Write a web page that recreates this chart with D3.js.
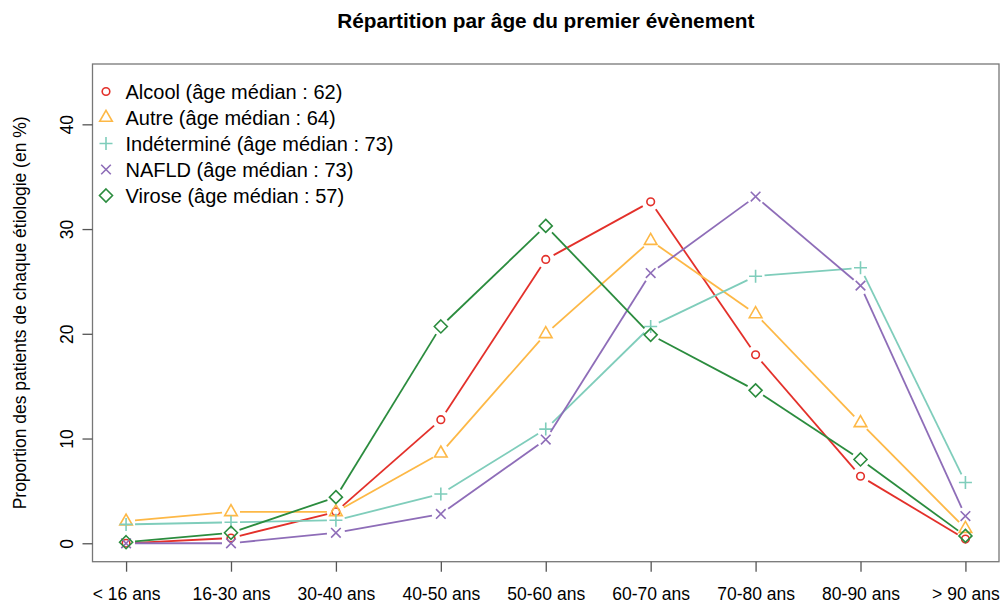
<!DOCTYPE html>
<html>
<head>
<meta charset="utf-8">
<script src="https://cdn.jsdelivr.net/npm/d3@7"></script>
<style>
  body { margin: 0; background: #fff; }
  text { font-family: "Liberation Sans", Arial, sans-serif; fill: #000; }
</style>
</head>
<body>
<svg id="chart" width="1000" height="603"></svg>
<script>
// age groups (x axis)
const ageGroups = ["< 16 ans", "16-30 ans", "30-40 ans", "40-50 ans", "50-60 ans", "60-70 ans", "70-80 ans", "80-90 ans", "> 90 ans"]
const yTicks = [0, 10, 20, 30, 40]

// proportion (%) per etiology
const alcool      = [0.0, 0.5, 3.0, 11.8, 27.1, 32.6, 18.0, 6.4, 0.4]
const autre       = [2.1, 3.0, 3.0, 8.6, 20.0, 28.9, 21.9, 11.5, 1.4]
const indetermine = [1.8, 2.0, 2.2, 4.7, 10.9, 20.7, 25.5, 26.3, 5.8]
const nafld       = [0.0, 0.0, 1.0, 2.8, 9.9, 25.8, 33.1, 24.6, 2.6]
const virose      = [0.1, 1.0, 4.4, 20.7, 30.3, 19.9, 14.6, 8.0, 0.7]

const seriesNames = ["Alcool (âge médian : 62)", "Autre (âge médian : 64)", "Indéterminé (âge médian : 73)", "NAFLD (âge médian : 73)", "Virose (âge médian : 57)"]
const seriesColors = ["#E3302A", "#FDB846", "#7FCDBB", "#8E6DB8", "#2B8C3E"]
const seriesShapes = ["circle", "triangle", "plus", "cross", "diamond"]

const series = [alcool, autre, indetermine, nafld, virose].map((vals, i) => ({
  name: seriesNames[i], color: seriesColors[i], shape: seriesShapes[i], values: vals
}))

const svg = d3.select("#chart")

// plot region (R-like box)
const plotL = 92.5, plotR = 999, plotT = 64, plotB = 561.7

// R pads the range by 4% on each side: xlim c(1,9), ylim c(0,44)
const x = d3.scaleLinear().domain([1 - 8 * 0.04, 9 + 8 * 0.04]).range([plotL, plotR])
const y = d3.scaleLinear().domain([-44 * 0.04, 44 * 1.04]).range([plotB, plotT])

// title
svg.append("text")
  .attr("x", (plotL + plotR) / 2).attr("y", 28)
  .attr("text-anchor", "middle")
  .style("font-size", "20.8px").style("font-weight", "bold")
  .text("Répartition par âge du premier évènement")

// box
svg.append("rect")
  .attr("x", plotL).attr("y", plotT)
  .attr("width", plotR - plotL).attr("height", plotB - plotT)
  .attr("fill", "none").attr("stroke", "#777").attr("stroke-width", 1.3)

// x axis
const xAxis = d3.axisBottom(x)
  .tickValues(d3.range(1, ageGroups.length + 1))
  .tickFormat(d => ageGroups[d - 1])
  .tickSize(10).tickPadding(16).tickSizeOuter(0)
const gx = svg.append("g").attr("transform", "translate(0," + plotB + ")").call(xAxis)
gx.select(".domain").remove()
gx.selectAll("line").attr("stroke", "#555").attr("stroke-width", 1.3)
gx.selectAll("text").style("font-size", "17.5px").attr("fill", "#000")

// y axis
const yAxis = d3.axisLeft(y).tickValues(yTicks).tickSize(10).tickSizeOuter(0)
const gy = svg.append("g").attr("transform", "translate(" + plotL + ",0)").call(yAxis)
gy.select(".domain").remove()
gy.selectAll("line").attr("stroke", "#555").attr("stroke-width", 1.3)
gy.selectAll("text")
  .style("font-size", "17.5px").attr("fill", "#000")
  .attr("x", null).attr("dy", null)
  .attr("text-anchor", "middle")
  .attr("transform", d => "translate(-19.5," + y(d) + ") rotate(-90)")
// the tick group already carries the y offset, so undo it for the text
gy.selectAll(".tick text")
  .attr("transform", "translate(-19.5,0) rotate(-90)")

// y axis title
svg.append("text")
  .attr("transform", "translate(26," + (plotT + plotB) / 2 + ") rotate(-90)")
  .attr("text-anchor", "middle")
  .style("font-size", "17.5px")
  .text("Proportion des patients de chaque étiologie (en %)")

// draw one point symbol, R style
function drawSymbol(g, shape, cx, cy, color) {
  const s = g.append("g").attr("transform", "translate(" + cx + "," + cy + ")")
    .attr("fill", "none").attr("stroke", color).attr("stroke-width", 1.6)
  if (shape == "circle") s.append("circle").attr("r", 3.8)
  else if (shape == "triangle") s.append("path").attr("d", "M0,-7.2L6.3,3.8L-6.3,3.8Z")
  else if (shape == "plus") s.append("path").attr("d", "M-6.5,0H6.5M0,-6.5V6.5")
  else if (shape == "cross") s.append("path").attr("d", "M-4.8,-4.8L4.8,4.8M-4.8,4.8L4.8,-4.8")
  else if (shape == "diamond") s.append("path").attr("d", "M0,-6.5L6.5,0L0,6.5L-6.5,0Z")
}

// lines with gaps round the points (type = "b")
const gap = 9
series.forEach(s => {
  const g = svg.append("g")
  const pts = s.values.map((v, i) => [x(i + 1), y(v)])
  for (let i = 0; i < pts.length - 1; i++) {
    const [x0, y0] = pts[i], [x1, y1] = pts[i + 1]
    const len = Math.hypot(x1 - x0, y1 - y0)
    if (len <= 2 * gap) continue
    const ux = (x1 - x0) / len, uy = (y1 - y0) / len
    g.append("line")
      .attr("x1", x0 + ux * gap).attr("y1", y0 + uy * gap)
      .attr("x2", x1 - ux * gap).attr("y2", y1 - uy * gap)
      .attr("stroke", s.color).attr("stroke-width", 1.8)
  }
  pts.forEach(p => drawSymbol(g, s.shape, p[0], p[1], s.color))
})

// legend
const legend = svg.append("g")
series.forEach((s, i) => {
  const ly = 91.5 + i * 26
  drawSymbol(legend, s.shape, 106, ly, s.color)
  legend.append("text")
    .attr("x", 125.5).attr("y", ly).attr("dy", "0.35em")
    .style("font-size", "20px")
    .text(s.name)
})
</script>
</body>
</html>
